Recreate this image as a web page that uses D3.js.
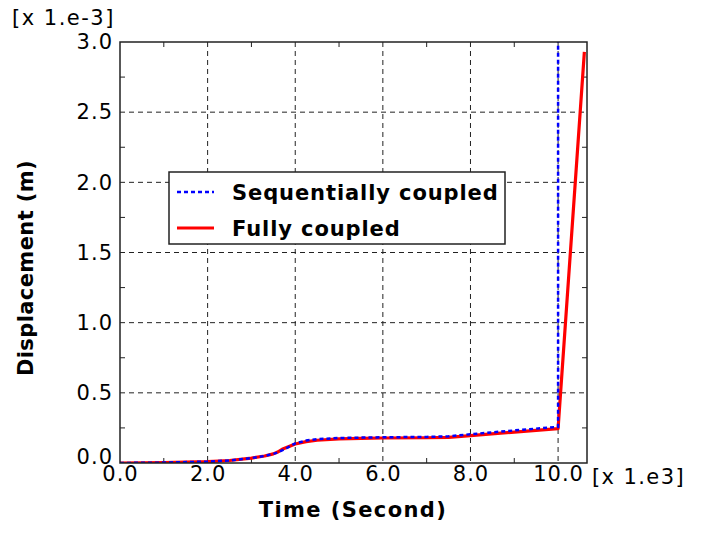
<!DOCTYPE html>
<html><head><meta charset="utf-8">
<script src="https://cdn.jsdelivr.net/npm/d3@7"></script>
<style>
html,body{margin:0;padding:0;background:#fff;}
svg{display:block;font-family:"DejaVu Sans",Verdana,sans-serif;}
</style></head>
<body>
<svg id="chart" width="724" height="538"></svg>
<script>
// Data (time in 1e3 s, displacement in 1e-3 m)
const seqTime = [0, 1.0, 2.0, 2.5, 3.0, 3.3, 3.5, 3.6, 3.7, 3.8, 4.0, 4.25, 4.5, 5.0, 5.5, 6.0, 7.0, 7.5, 8.0, 9.0, 10.0, 10.0];
const seqDisp = [0.0, 0.003, 0.01, 0.018, 0.035, 0.05, 0.065, 0.075, 0.09, 0.105, 0.14, 0.16, 0.17, 0.178, 0.181, 0.183, 0.186, 0.19, 0.205, 0.232, 0.258, 3.05];
const fullTime = [0, 1.0, 2.0, 2.5, 3.0, 3.3, 3.5, 3.6, 3.7, 3.8, 4.0, 4.25, 4.5, 5.0, 5.5, 6.0, 7.0, 7.5, 8.0, 9.0, 10.0, 10.6];
const fullDisp = [0.0, 0.003, 0.01, 0.018, 0.035, 0.05, 0.065, 0.078, 0.098, 0.11, 0.135, 0.152, 0.162, 0.172, 0.176, 0.178, 0.18, 0.183, 0.195, 0.22, 0.245, 2.93];
const xTicks = [0, 2, 4, 6, 8, 10];
const xMinor = [1, 3, 5, 7, 9];
const yTicks = [0, 0.5, 1.0, 1.5, 2.0, 2.5, 3.0];
const yMinor = [0.25, 0.75, 1.25, 1.75, 2.25, 2.75];
const seriesNames = ["Sequentially coupled", "Fully coupled"];
const seriesColors = ["#0000ff", "#ff0000"];

const L = 120, R = 587, T = 42, B = 463;
const W = R - L, H = B - T;
const svg = d3.select("#chart");
const x = d3.scaleLinear().domain([0, 10.66]).range([L, R]);
const y = d3.scaleLinear().domain([0, 3.0]).range([B, T]);

// grid
const grid = svg.append("g");
grid.selectAll(".gx").data(xTicks.filter(d => d > 0)).join("line")
  .attr("x1", d => x(d)).attr("x2", d => x(d)).attr("y1", T).attr("y2", B)
  .attr("stroke", "#222").attr("stroke-width", 1).attr("stroke-dasharray", "5,4");
grid.selectAll(".gy").data(yTicks.filter(d => d > 0 && d < 3)).join("line")
  .attr("x1", L).attr("x2", R).attr("y1", d => y(d)).attr("y2", d => y(d))
  .attr("stroke", "#222").attr("stroke-width", 1).attr("stroke-dasharray", "5,4");

// minor ticks (inward, all four sides)
const tk = svg.append("g").attr("stroke", "#222").attr("stroke-width", 1);
xMinor.forEach(v => {
  tk.append("line").attr("x1", x(v)).attr("x2", x(v)).attr("y1", B).attr("y2", B - 5);
  tk.append("line").attr("x1", x(v)).attr("x2", x(v)).attr("y1", T).attr("y2", T + 5);
});
yMinor.forEach(v => {
  tk.append("line").attr("x1", L).attr("x2", L + 5).attr("y1", y(v)).attr("y2", y(v));
  tk.append("line").attr("x1", R).attr("x2", R - 5).attr("y1", y(v)).attr("y2", y(v));
});

// clip
svg.append("clipPath").attr("id", "clip").append("rect")
  .attr("x", L).attr("y", T).attr("width", W).attr("height", H);

const line = d3.line().x(d => x(d[0])).y(d => y(d[1]));
const plot = svg.append("g").attr("clip-path", "url(#clip)");
plot.append("path").datum(fullTime.map((t, i) => [t, fullDisp[i]]))
  .attr("d", line).attr("fill", "none").attr("stroke", seriesColors[1]).attr("stroke-width", 3.2)
  .attr("stroke-linejoin", "round");
plot.append("path").datum(seqTime.map((t, i) => [t, seqDisp[i]]))
  .attr("d", line).attr("fill", "none").attr("stroke", seriesColors[0]).attr("stroke-width", 2.5)
  .attr("stroke-dasharray", "4,3");

// frame
svg.append("rect").attr("x", L).attr("y", T).attr("width", W).attr("height", H)
  .attr("fill", "none").attr("stroke", "#222").attr("stroke-width", 1.5);

// axes labels via d3 axes
const xAxis = svg.append("g").attr("transform", `translate(0,${B})`)
  .call(d3.axisBottom(x).tickValues(xTicks).tickFormat(d3.format(".1f")).tickSize(0).tickPadding(3));
xAxis.select(".domain").remove();
xAxis.selectAll("text").attr("font-size", 21).attr("fill", "#000").attr("letter-spacing", 1)
  .attr("font-family", "DejaVu Sans, Verdana, sans-serif");

const yAxis = svg.append("g").attr("transform", `translate(${L},0)`)
  .call(d3.axisLeft(y).tickValues(yTicks).tickFormat(d3.format(".1f")).tickSize(0).tickPadding(7));
yAxis.select(".domain").remove();
yAxis.selectAll("text").attr("font-size", 21).attr("fill", "#000").attr("letter-spacing", 1)
  .attr("font-family", "DejaVu Sans, Verdana, sans-serif");
yAxis.selectAll(".tick").filter(d => d === 0).select("text").attr("dy", "0.0em");

svg.append("text").attr("x", 12).attr("y", 25).attr("font-size", 21).attr("letter-spacing", 1.5).text("[x 1.e-3]");
svg.append("text").attr("x", 592).attr("y", 484).attr("font-size", 21).attr("letter-spacing", 1.4).text("[x 1.e3]");

svg.append("text").attr("x", 353).attr("y", 517).attr("text-anchor", "middle")
  .attr("font-size", 21).attr("font-weight", "bold").attr("letter-spacing", 1.4).text("Time (Second)");
svg.append("text").attr("transform", "translate(33,268) rotate(-90)").attr("text-anchor", "middle")
  .attr("font-size", 21).attr("font-weight", "bold").attr("letter-spacing", 0.4).text("Displacement (m)");

// legend
const lg = svg.append("g");
lg.append("rect").attr("x", 169).attr("y", 172).attr("width", 336).attr("height", 72)
  .attr("fill", "#fff").attr("stroke", "#222").attr("stroke-width", 1.5);
seriesNames.forEach((n, i) => {
  const yy = 192 + i * 36;
  lg.append("line").attr("x1", 177).attr("x2", 214).attr("y1", yy).attr("y2", yy)
    .attr("stroke", seriesColors[i]).attr("stroke-width", i === 0 ? 2.5 : 3)
    .attr("stroke-dasharray", i === 0 ? "4,3" : null);
  lg.append("text").attr("x", 232).attr("y", yy + 8).attr("font-size", 21)
    .attr("font-weight", "bold").attr("letter-spacing", 0.9).text(n);
});
</script>
</body></html>
